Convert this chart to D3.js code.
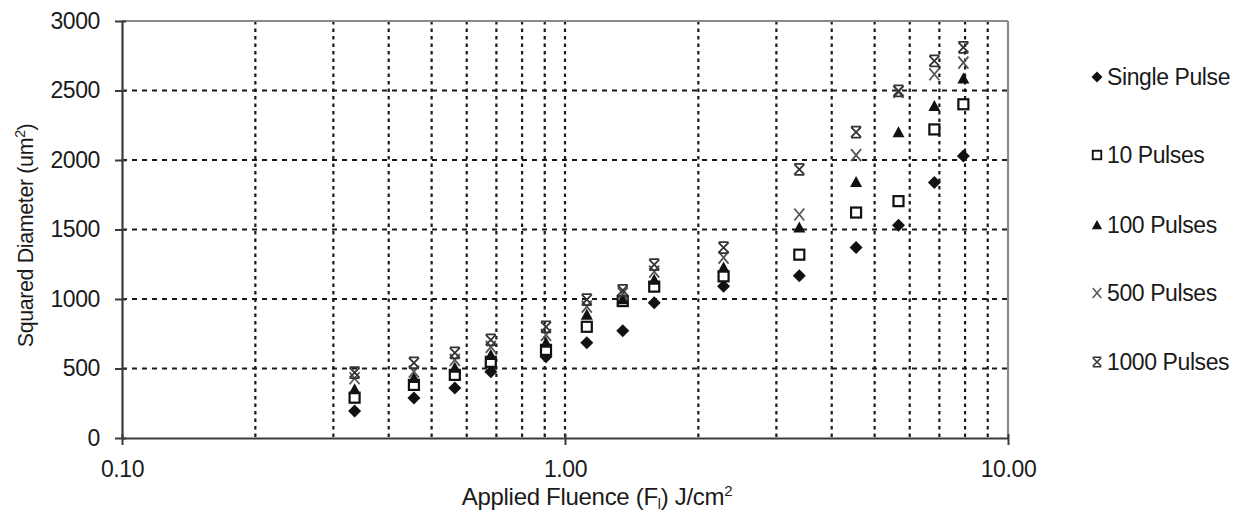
<!DOCTYPE html>
<html>
<head>
<meta charset="utf-8">
<script src="https://cdn.jsdelivr.net/npm/d3@7"></script>
<style>
  html, body { margin: 0; padding: 0; background: #fff; }
  svg { display: block; font-family: "Liberation Sans", Arial, sans-serif; }
</style>
</head>
<body>
<svg id="chart" width="1248" height="511"></svg>
<script>
// Applied fluence (J/cm^2) for each measurement column
const fluence = [0.335, 0.456, 0.564, 0.680, 0.906, 1.12, 1.35, 1.59, 2.28, 3.38, 4.54, 5.66, 6.82, 7.93];

// Squared crater diameter (um^2) per pulse count
const singlePulse = [195, 288, 360, 476, 584, 685, 772, 973, 1091, 1168, 1370, 1530, 1838, 2028];
const tenPulses = [290, 382, 454, 548, 634, 800, 985, 1089, 1163, 1319, 1622, 1704, 2220, 2401];
const hundredPulses = [350, 432, 505, 598, 685, 887, 998, 1139, 1226, 1514, 1841, 2199, 2389, 2586];
const fiveHundredPulses = [430, 478, 562, 656, 742, 945, 1040, 1197, 1298, 1608, 2035, 2490, 2617, 2701];
const thousandPulses = [470, 540, 612, 706, 800, 995, 1062, 1247, 1370, 1932, 2201, 2497, 2713, 2810];

const seriesNames = ["Single Pulse", "10 Pulses", "100 Pulses", "500 Pulses", "1000 Pulses"];
const seriesValues = [singlePulse, tenPulses, hundredPulses, fiveHundredPulses, thousandPulses];
const markerKinds = ["diamond", "square", "triangle", "cross", "star"];

const yTicks = [0, 500, 1000, 1500, 2000, 2500, 3000];
const xMajorTicks = [0.1, 1, 10];
const xTickLabels = ["0.10", "1.00", "10.00"];

const svg = d3.select("#chart");
const plotLeft = 122, plotRight = 1008, plotTop = 21, plotBottom = 438;

const x = d3.scaleLog().domain([0.1, 10]).range([plotLeft, plotRight]);
const y = d3.scaleLinear().domain([0, 3000]).range([plotBottom, plotTop]);

const textColor = "#1a1a1a";
const gridColor = "#1a1a1a";
const fontFamily = "Liberation Sans, Arial, sans-serif";

// Minor decade gridlines (0.2..0.9, 1..9)
const xGrid = [];
for (let d = 0.1; d < 10; d *= 10) {
  for (let k = 2; k <= 10; k++) {
    const v = +(d * k).toPrecision(3);
    if (v < 10) xGrid.push(v);
  }
}

const g = svg.append("g");

g.selectAll("line.vgrid").data(xGrid).join("line")
  .attr("class", "vgrid")
  .attr("x1", d => x(d)).attr("x2", d => x(d))
  .attr("y1", plotTop).attr("y2", plotBottom)
  .attr("stroke", gridColor).attr("stroke-width", 2.2)
  .attr("stroke-dasharray", "3.5,4");

g.selectAll("line.hgrid").data(yTicks.filter(t => t > 0 && t < 3000)).join("line")
  .attr("class", "hgrid")
  .attr("x1", plotLeft).attr("x2", plotRight)
  .attr("y1", d => y(d)).attr("y2", d => y(d))
  .attr("stroke", gridColor).attr("stroke-width", 2.2)
  .attr("stroke-dasharray", "5,5");

// Plot frame: light top/right edges, dark axes on left/bottom
g.append("line").attr("x1", plotLeft).attr("x2", plotRight).attr("y1", plotTop).attr("y2", plotTop)
  .attr("stroke", "#8a8a8a").attr("stroke-width", 2.2);
g.append("line").attr("x1", plotRight).attr("x2", plotRight).attr("y1", plotTop).attr("y2", plotBottom)
  .attr("stroke", "#8a8a8a").attr("stroke-width", 2.2);

// Y axis
const yAxis = d3.axisLeft(y).tickValues(yTicks).tickSize(0).tickPadding(22).tickFormat(d3.format("d"));
const ya = svg.append("g").attr("transform", `translate(${plotLeft},0)`).call(yAxis);
ya.select(".domain").attr("stroke", "#3a3a3a").attr("stroke-width", 2.2);
ya.selectAll(".tick text").attr("font-size", 23).attr("fill", textColor)
  .attr("font-family", fontFamily).attr("letter-spacing", "-0.4");
ya.selectAll(".tick").append("line")
  .attr("x1", -7).attr("x2", 4).attr("stroke", "#3a3a3a").attr("stroke-width", 2);

// X axis (log scale, labelled decades)
const xAxis = d3.axisBottom(x).tickValues(xMajorTicks).tickSize(0).tickPadding(23)
  .tickFormat((d, i) => xTickLabels[i]);
const xa = svg.append("g").attr("transform", `translate(0,${plotBottom})`).call(xAxis);
xa.select(".domain").attr("stroke", "#3a3a3a").attr("stroke-width", 2.2);
xa.selectAll(".tick text").attr("font-size", 23).attr("fill", textColor)
  .attr("font-family", fontFamily).attr("letter-spacing", "-0.4");
xa.selectAll(".tick").append("line")
  .attr("y1", -4).attr("y2", 7).attr("stroke", "#3a3a3a").attr("stroke-width", 2);

// Axis titles
svg.append("text")
  .attr("transform", `translate(33,${(plotTop + plotBottom) / 2 + 6}) rotate(-90)`)
  .attr("text-anchor", "middle").attr("font-size", 21.5).attr("fill", textColor)
  .attr("letter-spacing", "-0.4")
  .call(t => {
    t.append("tspan").text("Squared Diameter (um");
    t.append("tspan").attr("font-size", 14).attr("dy", -8).text("2");
    t.append("tspan").attr("dy", 8).text(")");
  });

svg.append("text")
  .attr("x", 597).attr("y", 505)
  .attr("text-anchor", "middle").attr("font-size", 24).attr("fill", textColor)
  .attr("letter-spacing", "-0.3")
  .call(t => {
    t.append("tspan").text("Applied Fluence (F");
    t.append("tspan").attr("font-size", 14).attr("dy", 4).text("l");
    t.append("tspan").attr("dy", -4).text(") J/cm");
    t.append("tspan").attr("font-size", 15).attr("dy", -9).text("2");
  });

// Marker drawing
function drawMarker(sel, kind) {
  if (kind === "diamond") {
    sel.append("path").attr("d", "M0,-6.5L6.5,0L0,6.5L-6.5,0Z").attr("fill", "#111");
  } else if (kind === "square") {
    sel.append("rect").attr("x", -5).attr("y", -5).attr("width", 10).attr("height", 10)
      .attr("fill", "#fff").attr("stroke", "#111").attr("stroke-width", 2.2);
  } else if (kind === "triangle") {
    sel.append("path").attr("d", "M0,-6L6,5L-6,5Z").attr("fill", "#111");
  } else if (kind === "cross") {
    sel.append("path").attr("d", "M-5,-6L5,6M-5,6L5,-6")
      .attr("stroke", "#555").attr("stroke-width", 1.8).attr("fill", "none");
  } else if (kind === "star") {
    sel.append("path").attr("d", "M-5,-5L5,5M-5,5L5,-5M-5,-5.5H5M-5,5.5H5")
      .attr("stroke", "#333").attr("stroke-width", 1.8).attr("fill", "none");
  }
}

// Data points, drawn series by series
seriesValues.forEach((vals, si) => {
  const pts = svg.append("g").selectAll("g").data(vals.map((v, i) => ({ f: fluence[i], v })))
    .join("g")
    .attr("transform", d => `translate(${x(d.f)},${y(d.v)})`);
  pts.each(function () { drawMarker(d3.select(this), markerKinds[si]); });
});

// Legend
const legendY = [77, 155, 225, 293, 362];
const legend = svg.append("g");
seriesNames.forEach((name, i) => {
  const item = legend.append("g").attr("transform", `translate(1097,${legendY[i]})`);
  drawMarker(item.append("g").attr("transform", "scale(0.85)"), markerKinds[i]);
  item.append("text").attr("x", 10).attr("y", 8).attr("font-size", 23)
    .attr("fill", textColor).attr("letter-spacing", "-0.4").text(name);
});
</script>
</body>
</html>
